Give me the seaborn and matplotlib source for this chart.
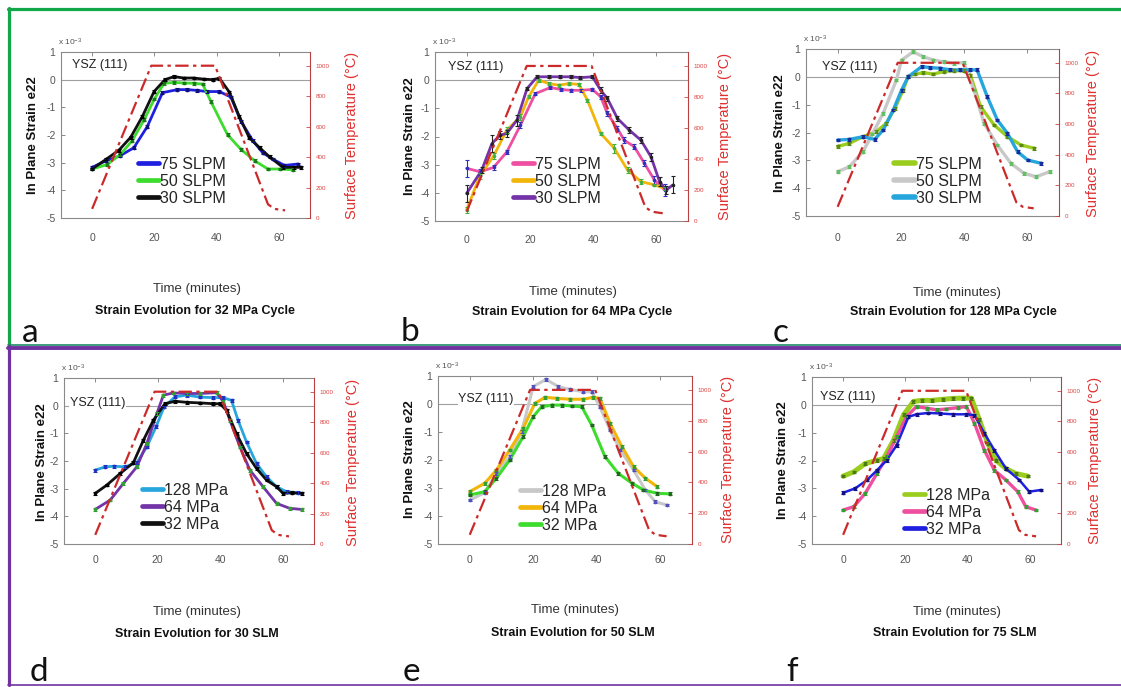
import matplotlib
matplotlib.use("Agg")
import matplotlib.pyplot as plt
from matplotlib.lines import Line2D
import seaborn as sns

# ---------------- data ----------------
# surface temperature profile (shared by all panels)
temp_time = [0, 19, 39.5, 56.5, 58.5, 62]
temp_val = [60, 1000, 1000, 90, 60, 50]

# (a) 32 MPa cycle
a_t_75 = [0, 4.5, 9, 13.4, 17.7, 22.6, 27.4, 30.6, 33.8, 37, 40.9, 44.6, 47.8, 51.6, 54.8, 58, 61.8, 66]
a_s_75 = [-3.17, -2.93, -2.75, -2.46, -1.7, -0.47, -0.36, -0.36, -0.39, -0.43, -0.43, -0.63, -1.5, -2.2, -2.64, -2.87, -3.1, -3.05]
a_t_50 = [0, 4.8, 9.1, 12.9, 16.7, 20, 23.1, 26.3, 29.4, 32.6, 35.5, 38.2, 43.5, 47.8, 52.2, 56.5, 60.5, 64.5]
a_s_50 = [-3.23, -3.07, -2.7, -2.2, -1.45, -0.7, -0.13, -0.1, -0.12, -0.13, -0.16, -0.8, -1.99, -2.52, -2.93, -3.23, -3.23, -3.26]
a_t_30 = [0, 4.6, 8.6, 12.4, 16.1, 19.9, 23.4, 26.3, 29.4, 32.6, 35.8, 38.7, 40.9, 44.1, 47.3, 50.5, 53.8, 57, 61.3, 65, 67]
a_s_30 = [-3.23, -2.87, -2.55, -2.08, -1.34, -0.43, 0.0, 0.11, 0.06, 0.06, 0.02, 0.0, 0.05, -0.45, -1.34, -2.1, -2.46, -2.79, -3.17, -3.17, -3.17]

# (b) 64 MPa cycle
b_t_75 = [0, 4.2, 8.5, 12.7, 17, 21.7, 26.5, 29.7, 32.9, 36.1, 39.8, 42.4, 44.5, 47.7, 49.8, 53, 56.2, 59.4, 62.6]
b_s_75 = [-3.13, -3.25, -3.1, -2.55, -1.6, -0.48, -0.26, -0.33, -0.36, -0.36, -0.33, -0.59, -1.18, -1.72, -2.13, -2.36, -2.95, -3.55, -3.9]
b_e_75 = [0.3, 0.1, 0.08, 0.08, 0.1, 0.05, 0.05, 0.05, 0.05, 0.05, 0.05, 0.08, 0.1, 0.1, 0.1, 0.1, 0.1, 0.15, 0.2]
b_t_50 = [0, 4.2, 8.5, 12.7, 17, 19.6, 22.8, 26, 29.2, 32.3, 35.5, 38.2, 42.4, 46.7, 50.9, 55.1, 59.4, 62.6]
b_s_50 = [-4.6, -3.4, -2.7, -1.77, -1.3, -0.59, 0.0, -0.12, -0.18, -0.12, -0.15, -0.71, -1.89, -2.42, -3.19, -3.6, -3.72, -3.84]
b_e_50 = [0.1, 0.1, 0.1, 0.1, 0.1, 0.05, 0.05, 0.05, 0.05, 0.05, 0.05, 0.05, 0.05, 0.15, 0.1, 0.1, 0.05, 0.05]
b_t_30 = [0, 4.8, 8, 10.6, 12.7, 15.9, 19.1, 22.3, 26, 29.5, 33, 36, 39.8, 42.4, 44.5, 47.7, 51.4, 55.1, 58.3, 61, 63.1, 65.2]
b_s_30 = [-4.02, -3.19, -2.25, -1.95, -1.89, -1.42, -0.3, 0.12, 0.12, 0.12, 0.12, 0.09, 0.12, -0.36, -0.65, -1.36, -1.77, -2.13, -2.72, -3.6, -3.9, -3.72]
b_e_30 = [0.3, 0.1, 0.3, 0.15, 0.12, 0.2, 0.05, 0.05, 0.05, 0.05, 0.05, 0.05, 0.05, 0.1, 0.1, 0.1, 0.1, 0.1, 0.15, 0.15, 0.15, 0.3]

# (c) 128 MPa cycle
c_t_75 = [0, 3.7, 8, 12.2, 15.4, 18.1, 20.7, 22.3, 24.5, 27.1, 30.3, 33.5, 36.7, 39.9, 42, 45.2, 49.5, 53.7, 58, 62.2]
c_s_75 = [-2.5, -2.39, -2.15, -1.97, -1.67, -1.13, -0.48, 0.02, 0.1, 0.15, 0.1, 0.19, 0.22, 0.22, 0.06, -1.07, -1.73, -2.15, -2.45, -2.57]
c_t_50 = [0, 3.7, 8, 11, 14.4, 18.6, 20.2, 23.9, 27.1, 30.3, 33.5, 36.7, 39.9, 43.1, 46.3, 50.5, 54.8, 59, 62.8, 67]
c_s_50 = [-3.41, -3.23, -2.69, -2.05, -1.31, -0.11, 0.6, 0.9, 0.72, 0.6, 0.54, 0.49, 0.51, -0.47, -1.67, -2.45, -3.11, -3.47, -3.59, -3.41]
c_t_30 = [0, 3.7, 8, 11.7, 14.4, 17.6, 20.2, 22.3, 26.6, 29.3, 32.4, 35.6, 38.8, 42, 44.1, 47.3, 50.5, 53.7, 56.9, 60.1, 64.4]
c_s_30 = [-2.27, -2.25, -2.15, -2.25, -1.91, -1.19, -0.48, 0.0, 0.37, 0.33, 0.31, 0.25, 0.25, 0.25, 0.25, -0.71, -1.55, -2.03, -2.69, -2.99, -3.11]

# (d) 30 SLM
d_t_128 = [0, 3.2, 5.9, 9.6, 13.3, 16.5, 19.5, 22, 25.5, 29.3, 33.5, 37.8, 41, 43.6, 45.7, 48.4, 51.6, 54.8, 58, 61.2, 64.9]
d_s_128 = [-2.33, -2.21, -2.19, -2.21, -2.06, -1.49, -0.75, -0.05, 0.32, 0.38, 0.31, 0.29, 0.29, 0.19, -0.53, -1.31, -2.09, -2.57, -2.93, -3.11, -3.15]
d_t_64 = [0, 4.8, 9, 13.3, 16.5, 19.7, 21.8, 25, 29.3, 33.5, 38.8, 41, 43.1, 46.3, 49.5, 53.7, 58, 62.2, 66]
d_s_64 = [-3.75, -3.41, -2.81, -2.21, -1.37, -0.29, 0.38, 0.46, 0.44, 0.44, 0.47, 0.14, -0.53, -1.49, -2.33, -2.93, -3.53, -3.71, -3.75]
d_t_32 = [0, 3.7, 8, 12.2, 15.4, 18.6, 22.3, 25.5, 29.3, 33.5, 37.8, 39.9, 42, 45.2, 48.4, 51.6, 54.8, 58, 60.1, 62.8, 66]
d_s_32 = [-3.17, -2.87, -2.45, -2.06, -1.25, -0.53, 0.07, 0.16, 0.12, 0.1, 0.07, 0.07, -0.17, -1.01, -1.73, -2.27, -2.69, -2.93, -3.17, -3.15, -3.17]

# (e) 50 SLM
e_t_128 = [0, 4.7, 8.4, 12.6, 16.3, 20, 24, 27.9, 31.6, 35.8, 38.4, 41, 44.2, 47.4, 51.6, 55.3, 58.4, 62.1]
e_s_128 = [-3.43, -3.17, -2.48, -1.88, -0.99, 0.62, 0.88, 0.62, 0.52, 0.44, 0.44, -0.1, -0.93, -1.64, -2.36, -3.07, -3.49, -3.61]
e_t_64 = [0, 4.7, 8.4, 12.6, 16.8, 20.5, 23.7, 27.4, 31.6, 35.8, 38.9, 41, 44.2, 47.9, 51.6, 55.3, 59]
e_s_64 = [-3.13, -2.83, -2.36, -1.64, -0.87, 0.02, 0.24, 0.2, 0.17, 0.17, 0.24, 0.2, -0.69, -1.52, -2.24, -2.65, -2.95]
e_t_32 = [0, 4.7, 8.4, 12.6, 16.8, 20, 22.6, 25.8, 28.9, 32.1, 35.3, 38.4, 42.6, 46.8, 51.1, 54.7, 59, 63.2]
e_s_32 = [-3.25, -3.13, -2.65, -2.0, -1.17, -0.45, -0.1, -0.04, -0.04, -0.07, -0.1, -0.75, -1.88, -2.48, -2.83, -3.07, -3.19, -3.21]

# (f) 75 SLM
f_t_128 = [0, 3.4, 7.1, 10.9, 13, 16.2, 19.4, 22.6, 25.2, 28.4, 32.1, 35.3, 38.5, 41.2, 43.8, 46.5, 49.1, 52.3, 55.5, 59.3]
f_s_128 = [-2.56, -2.41, -2.11, -1.99, -1.93, -1.27, -0.36, 0.12, 0.16, 0.16, 0.2, 0.23, 0.24, 0.24, -0.54, -1.39, -1.99, -2.29, -2.47, -2.56]
f_t_64 = [0, 3.4, 7.1, 10.9, 14, 17.2, 20.4, 23.6, 26.8, 30, 33.2, 36.9, 39.6, 42.2, 45.4, 48.6, 52.3, 56.1, 58.7, 61.9]
f_s_64 = [-3.78, -3.66, -3.18, -2.46, -1.87, -1.15, -0.42, -0.06, -0.12, -0.18, -0.15, -0.1, -0.06, -0.66, -1.63, -2.35, -2.7, -3.12, -3.66, -3.78]
f_t_32 = [0, 3.9, 7.7, 10.9, 14, 17.2, 21, 23.6, 27.3, 31.1, 35.3, 39.6, 42.2, 45.4, 48.6, 52.3, 56.6, 59.8, 63.5]
f_s_32 = [-3.16, -3.0, -2.7, -2.35, -1.99, -1.45, -0.43, -0.34, -0.29, -0.31, -0.34, -0.34, -0.37, -1.03, -1.63, -2.29, -2.7, -3.12, -3.06]

small_err = 0.05

flow_labels = ["75 SLPM", "50 SLPM", "30 SLPM"]
press_labels = ["128 MPa", "64 MPa", "32 MPa"]
panel_titles = ["Strain Evolution for 32 MPa Cycle", "Strain Evolution for 64 MPa Cycle",
                "Strain Evolution for 128 MPa Cycle", "Strain Evolution for 30 SLM",
                "Strain Evolution for 50 SLM", "Strain Evolution for 75 SLM"]
panel_letters = ["a", "b", "c", "d", "e", "f"]
x_ticks = [0, 20, 40, 60]
y_ticks = [-5, -4, -3, -2, -1, 0, 1]
temp_ticks = [0, 200, 400, 600, 800, 1000]

# ---------------- style ----------------
sns.set_style("white")
plt.rcParams['font.family'] = ['Liberation Sans', 'DejaVu Sans']
plt.rcParams['axes.unicode_minus'] = False
plt.rcParams['mathtext.default'] = 'regular'

BLUE, GREEN, BLACK = '#1f1fe0', '#3ddc2e', '#111111'
PINK, GOLD, PURPLE = '#ee4fa0', '#f2b50a', '#7434a8'
LIME, LGRAY, CYAN = '#9acd1e', '#c8c8c8', '#27a6de'
TEMP_C = '#cc2a2a'

W, H = 1121, 687
fig = plt.figure(figsize=(W / 100, H / 100), dpi=100)


def fx(x):
    return x / W


def fy(y):
    return 1 - y / H


panels = [
    dict(box=(61, 52, 310, 218), xpad=11, ysz=(-6.5, 0.53), leg=(138, 157), labels=flow_labels,
         series=[(a_t_75, a_s_75, None, BLUE, '#10107a', 2.0),
                 (a_t_50, a_s_50, None, GREEN, '#1a7a1a', 2.0),
                 (a_t_30, a_s_30, None, BLACK, '#000000', 2.0)],
         ylab=(33, 135), tlab=(352, 135), xl=(197, 289), tt=(195, 311), let=(22, 342)),
    dict(box=(435, 52, 688, 221), xpad=10, ysz=(-5.9, 0.47), leg=(513, 157), labels=flow_labels,
         series=[(b_t_75, b_s_75, b_e_75, PINK, '#3030c0', 2.0),
                 (b_t_50, b_s_50, b_e_50, GOLD, '#40b040', 2.0),
                 (b_t_30, b_s_30, b_e_30, PURPLE, '#222222', 2.0)],
         ylab=(410, 136), tlab=(725, 136), xl=(573, 292), tt=(572, 312), let=(401, 341)),
    dict(box=(806, 49, 1059, 216), xpad=12, ysz=(-5.0, 0.36), leg=(894, 157), labels=flow_labels,
         series=[(c_t_75, c_s_75, None, LIME, '#5a8a10', 2.4),
                 (c_t_50, c_s_50, None, LGRAY, '#60c060', 2.4),
                 (c_t_30, c_s_30, None, CYAN, '#1a2a9a', 2.4)],
         ylab=(780, 133), tlab=(1093, 133), xl=(957, 293), tt=(953, 312), let=(773, 342)),
    dict(box=(64, 378, 314, 544), xpad=8, ysz=(-8.1, 0.09), leg=(142, 483), labels=press_labels,
         series=[(d_t_128, d_s_128, None, CYAN, '#2030c0', 2.0),
                 (d_t_64, d_s_64, None, PURPLE, '#30a030', 2.0),
                 (d_t_32, d_s_32, None, BLACK, '#000000', 2.0)],
         ylab=(42, 462), tlab=(353, 462), xl=(197, 612), tt=(197, 634), let=(30, 681)),
    dict(box=(438, 376, 692, 544), xpad=8, ysz=(-3.6, 0.17), leg=(520, 484), labels=press_labels,
         series=[(e_t_128, e_s_128, None, LGRAY, '#5050c0', 2.2),
                 (e_t_64, e_s_64, None, GOLD, '#30a030', 2.2),
                 (e_t_32, e_s_32, None, GREEN, '#226622', 2.2)],
         ylab=(410, 459), tlab=(728, 459), xl=(575, 610), tt=(573, 633), let=(403, 681)),
    dict(box=(812, 377, 1061, 544), xpad=8, ysz=(-7.4, 0.27), leg=(904, 488), labels=press_labels,
         series=[(f_t_128, f_s_128, None, LIME, '#4a7a10', 3.6),
                 (f_t_64, f_s_64, None, PINK, '#30a030', 2.4),
                 (f_t_32, f_s_32, None, BLUE, '#101080', 1.8)],
         ylab=(783, 460), tlab=(1095, 460), xl=(957, 612), tt=(955, 633), let=(786, 681)),
]

for i, p in enumerate(panels):
    L, T, R, B = p['box']
    ax = fig.add_axes([fx(L), fy(B), (R - L) / W, (B - T) / H])
    ax2 = ax.twinx()
    ax.set_xlim(-10, 70)
    ax.set_ylim(-5, 1)
    ax2.set_ylim(0, 1090)
    ax.axhline(0, color='#a0a0a0', lw=0.8, zorder=1)

    for (t, s, e, c, ec, lw) in p['series']:
        sns.lineplot(x=t, y=s, ax=ax, color=c, lw=lw, sort=False, estimator=None,
                     marker='o', markersize=2.6, markeredgewidth=0, markerfacecolor=ec,
                     zorder=3)
        err = e if e is not None else small_err
        ax.errorbar(t, s, yerr=err, fmt='none', ecolor=ec, elinewidth=0.8,
                    capsize=1.5, capthick=0.8, zorder=4)

    sns.lineplot(x=temp_time, y=temp_val, ax=ax2, color=TEMP_C, lw=1.6,
                 sort=False, estimator=None)
    ax2.lines[-1].set_dashes([6, 2, 1.5, 2])

    ax.set_xlabel('')
    ax.set_ylabel('')
    ax2.set_ylabel('')
    ax.set_xticks(x_ticks)
    ax.set_yticks(y_ticks)
    ax2.set_yticks(temp_ticks)
    ax.tick_params(axis='x', direction='in', top=True, length=3, width=0.6,
                   color='#777777', labelsize=7.5, labelcolor='#555555', pad=p['xpad'])
    ax.tick_params(axis='y', direction='in', length=3, width=0.6, color='#777777',
                   labelsize=7.5, labelcolor='#555555', pad=4, right=False)
    ax2.tick_params(axis='y', direction='in', length=3, width=0.6, color='#cc4444',
                    labelsize=4.5, labelcolor='#dd4444', pad=4)
    for sp in ['left', 'top', 'bottom']:
        ax.spines[sp].set_color('#8a8a8a')
        ax.spines[sp].set_linewidth(0.8)
        ax2.spines[sp].set_visible(False)
    ax.spines['right'].set_visible(False)
    ax2.spines['right'].set_color('#b84040')
    ax2.spines['right'].set_linewidth(0.8)

    # YSZ label
    ax.text(p['ysz'][0], p['ysz'][1], 'YSZ (111)', fontsize=9, color='#222222',
            ha='left', va='center', zorder=5,
            bbox=dict(facecolor='white', edgecolor='none', pad=0.5))

    # legend
    handles = [Line2D([0], [0], color=s[3], lw=3.4 if i != 2 else 4.0) for s in p['series']]
    ax.legend(handles, p['labels'], loc='upper left',
              bbox_to_anchor=(fx(p['leg'][0]), fy(p['leg'][1])),
              bbox_transform=fig.transFigure, frameon=False, fontsize=11.5,
              handlelength=1.3, handletextpad=0.1, labelspacing=0.12,
              borderpad=0, borderaxespad=0)

    # texts
    fig.text(fx(L - 3), fy(T - 4), r'x 10$^{-3}$', fontsize=6, color='#555555',
             ha='left', va='bottom')
    fig.text(fx(p['ylab'][0]), fy(p['ylab'][1]), 'In Plane Strain e22', rotation=90,
             fontsize=9.5, fontweight='bold', ha='center', va='center', color='#111111')
    fig.text(fx(p['tlab'][0]), fy(p['tlab'][1]), 'Surface Temperature (°C)', rotation=90,
             fontsize=10.5, ha='center', va='center', color='#e03030')
    fig.text(fx(p['xl'][0]), fy(p['xl'][1]), 'Time (minutes)', fontsize=9.5,
             ha='center', va='center', color='#333333')
    fig.text(fx(p['tt'][0]), fy(p['tt'][1]), panel_titles[i], fontsize=9,
             fontweight='bold', ha='center', va='center', color='#111111')
    fig.text(fx(p['let'][0]), fy(p['let'][1]), panel_letters[i], fontsize=24,
             family='Lato', ha='left', va='baseline', color='#111111')

# frames
GREEN_F = '#12a84a'
PURPLE_F = '#7032a0'
fig.add_artist(Line2D([fx(8.5), fx(8.5)], [fy(8), fy(345)], color=GREEN_F, lw=2.3))
fig.add_artist(Line2D([fx(7.5), fx(1121)], [fy(9), fy(9)], color=GREEN_F, lw=2.3))
fig.add_artist(Line2D([fx(7.5), fx(1121)], [fy(344.5), fy(344.5)], color='#1f8a68', lw=1.2))
fig.add_artist(Line2D([fx(7.5), fx(1121)], [fy(348), fy(348)], color=PURPLE_F, lw=2.8))
fig.add_artist(Line2D([fx(8.5), fx(8.5)], [fy(346), fy(685)], color=PURPLE_F, lw=2.3))
fig.add_artist(Line2D([fx(7.5), fx(1121)], [fy(684.5), fy(684.5)], color=PURPLE_F, lw=1.2))

fig.savefig('out.png', dpi=100)
